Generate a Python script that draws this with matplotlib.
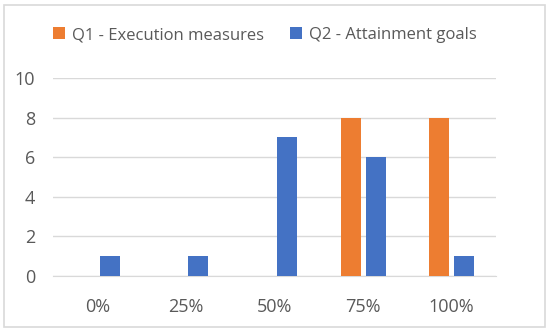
import matplotlib
matplotlib.use("Agg")
import matplotlib.pyplot as plt
import numpy as np
from matplotlib.patches import Rectangle

categories = ["0%", "25%", "50%", "75%", "100%"]
q1_values = [0, 0, 0, 8, 8]
q2_values = [1, 1, 7, 6, 1]
series_names = ["Q1 - Execution measures", "Q2 - Attainment goals"]
y_ticks = [0, 2, 4, 6, 8, 10]

plt.rcParams['font.family'] = ['Open Sans', 'DejaVu Sans']
W, H = 550, 332
fig = plt.figure(figsize=(W/100, H/100), dpi=100)
fig.patches.append(Rectangle((4/W, 5/H), 541/W, 322/H, transform=fig.transFigure,
                             fill=False, edgecolor='#d9d9d9', linewidth=1.2))
ax = fig.add_axes([53/W, 1-276/H, (496-53)/W, (276-78)/H])

x = np.arange(len(categories))
bw = 0.226
off = 0.141
orange = '#ed7d31'
blue = '#4472c4'
ax.bar(x - off, q1_values, bw, color=orange, label=series_names[0], zorder=3)
ax.bar(x + off, q2_values, bw, color=blue, label=series_names[1], zorder=3)

ax.set_xlim(-0.5, len(categories) - 0.5)
ax.set_ylim(0, 10)
ax.set_yticks(y_ticks)
ax.set_xticks(x)
ax.set_xticklabels(categories)
ax.yaxis.grid(True, color='#d9d9d9', linewidth=1)
ax.set_axisbelow(True)
for s in ['top', 'right', 'left']:
    ax.spines[s].set_visible(False)
ax.spines['bottom'].set_color('#d9d9d9')
ax.tick_params(axis='both', length=0, labelsize=13, colors='#595959')
ax.tick_params(axis='x', pad=16)
ax.tick_params(axis='y', pad=13)

leg = fig.legend(loc='center', bbox_to_anchor=(265/W, 1-35/H), ncol=2, frameon=False,
                 fontsize=12, handlelength=0.7, handleheight=0.7, handletextpad=0.4,
                 columnspacing=1.6, labelcolor='#595959')
fig.savefig("out.png", dpi=100)
